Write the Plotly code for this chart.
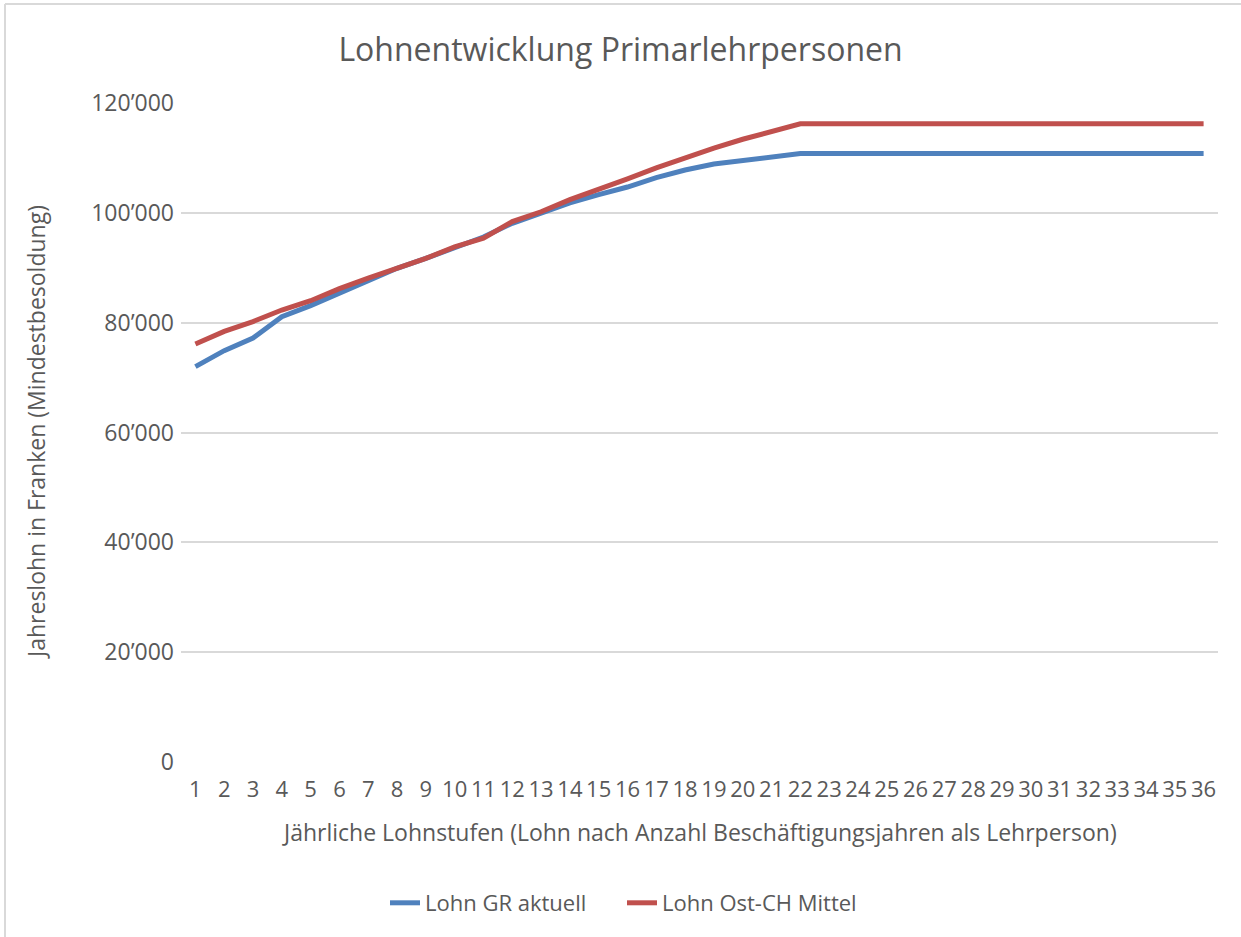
import plotly.graph_objects as go

stufen = list(range(1, 37))
lohn_gr = [72000, 74900, 77200, 81100, 83100, 85400, 87800, 89900, 91700, 93600,
           95600, 98100, 100000, 101800, 103300, 104700, 106400, 107800, 108900, 109600,
           110200, 110800] + [110800] * 14
lohn_ost = [76100, 78400, 80200, 82300, 84000, 86200, 88100, 89900, 91700, 93800,
            95400, 98400, 100200, 102400, 104200, 106200, 108200, 110100, 111800, 113400,
            114900, 116200] + [116200] * 14
y_ticks = [0, 20000, 40000, 60000, 80000, 100000, 120000]
y_labels = ["0", "20\u2019000", "40\u2019000", "60\u2019000", "80\u2019000", "100\u2019000", "120\u2019000"]

FONT = "Open Sans"
TXT = "#595959"

fig = go.Figure()
fig.add_trace(go.Scatter(x=stufen, y=lohn_gr, mode="lines", name="Lohn GR aktuell",
                         line=dict(color="#4F81BD", width=5)))
fig.add_trace(go.Scatter(x=stufen, y=lohn_ost, mode="lines", name="Lohn Ost-CH Mittel",
                         line=dict(color="#C0504D", width=5)))

L, R, T, B = 181, 23, 103, 175
W, H = 1241, 937
pw, ph = W - L - R, H - T - B

def px_x(p):
    return (p - L) / pw

def px_y(p):
    return (H - B - p) / ph

fig.update_layout(
    width=W, height=H,
    margin=dict(l=L, r=R, t=T, b=B),
    paper_bgcolor="white", plot_bgcolor="white",
    font=dict(family=FONT, color=TXT, size=22),
    title=dict(text="Lohnentwicklung Primarlehrpersonen", x=0.5, xanchor="center",
               y=1 - 50 / H, yanchor="middle", font=dict(size=32, color=TXT, family=FONT)),
    xaxis=dict(range=[0.5, 36.5], tickmode="array", tickvals=stufen,
               ticktext=[str(s) for s in stufen], showgrid=False, zeroline=False,
               showline=False, ticks="", tickfont=dict(size=22, color=TXT),
               ticklabelstandoff=12, fixedrange=True),
    yaxis=dict(range=[0, 120000], tickmode="array", tickvals=y_ticks, ticktext=y_labels,
               showgrid=True, gridcolor="#d9d9d9", gridwidth=2, zeroline=False,
               showline=False, ticks="", tickfont=dict(size=23, color=TXT),
               ticklabelstandoff=6, fixedrange=True),
    showlegend=True,
    legend=dict(orientation="h", x=px_x(622), xanchor="center", y=px_y(903), yanchor="middle",
                font=dict(size=22, color=TXT), bgcolor="rgba(0,0,0,0)",
                entrywidth=192, entrywidthmode="pixels"),
    annotations=[
        dict(text="J\u00e4hrliche Lohnstufen (Lohn nach Anzahl Besch\u00e4ftigungsjahren als Lehrperson)",
             xref="paper", yref="paper", x=px_x(699), y=px_y(832), xanchor="center",
             yanchor="middle", showarrow=False, font=dict(size=23, color=TXT)),
        dict(text="Jahreslohn in Franken (Mindestbesoldung)", xref="paper", yref="paper",
             x=px_x(36), y=px_y(432), xanchor="center", yanchor="middle", textangle=-90,
             showarrow=False, font=dict(size=23, color=TXT)),
    ],
    shapes=[
        dict(type="line", xref="paper", yref="paper", x0=px_x(5), x1=px_x(1250),
             y0=px_y(4), y1=px_y(4), line=dict(color="#d9d9d9", width=2)),
        dict(type="line", xref="paper", yref="paper", x0=px_x(5), x1=px_x(5),
             y0=px_y(4), y1=px_y(945), line=dict(color="#d9d9d9", width=2)),
    ],
)

fig.write_html("out.html", config={"displayModeBar": False},
               post_script="document.body.style.margin='0';document.body.style.overflow='hidden';")
